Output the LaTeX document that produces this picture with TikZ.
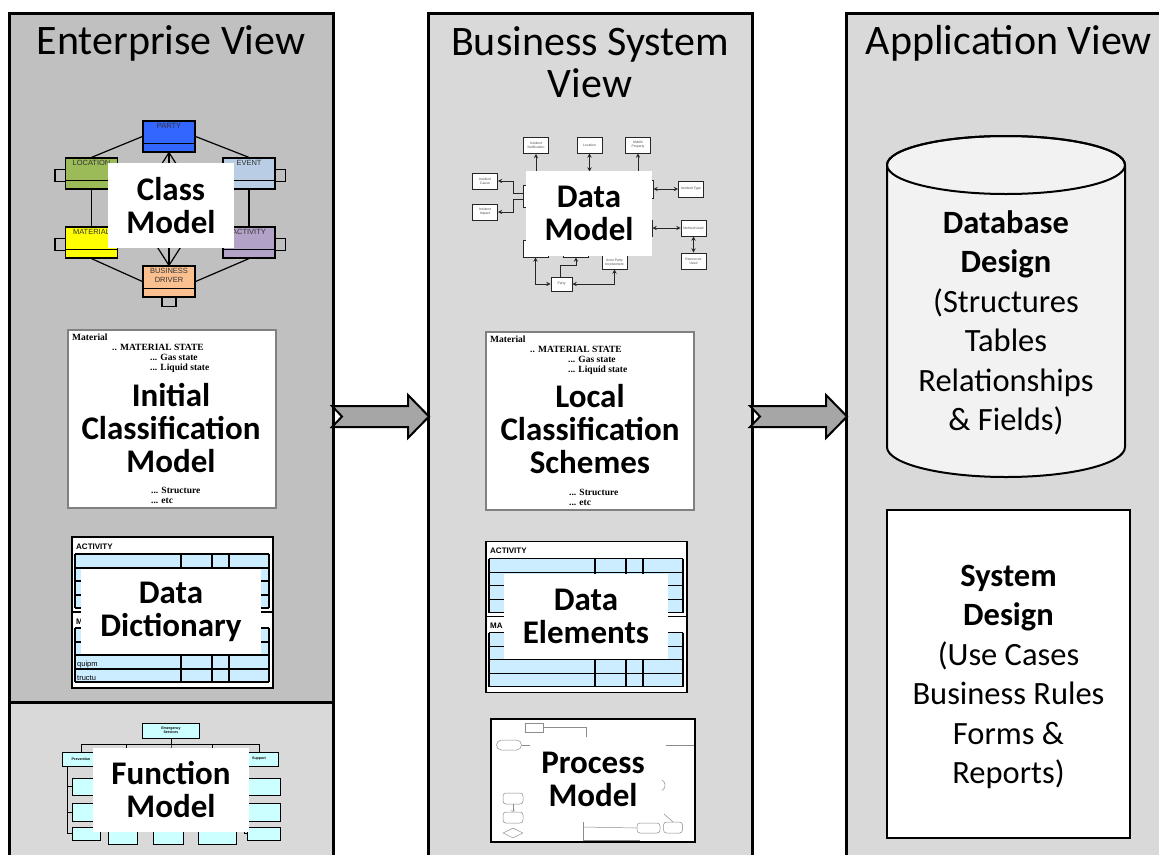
\documentclass[tikz,border=0pt]{standalone}
\usepackage{fontspec}
\setmainfont{Carlito}
\newfontfamily\timesfont{Liberation Serif}
\newfontfamily\arialfont{Liberation Sans}
\usetikzlibrary{positioning,shapes.geometric}

\definecolor{entgray}{HTML}{C0C0C0}
\definecolor{viewgray}{HTML}{D9D9D9}
\definecolor{dbgray}{HTML}{F2F2F2}
\definecolor{arrowgray}{HTML}{A6A6A6}
\definecolor{partyblue}{HTML}{3366FF}
\definecolor{locgreen}{HTML}{9BBB59}
\definecolor{eventblue}{HTML}{B9CDE5}
\definecolor{matyellow}{HTML}{FFFF00}
\definecolor{actpurple}{HTML}{B3A2C7}
\definecolor{bizorange}{HTML}{FAC090}
\definecolor{cellblue}{HTML}{CCECFF}
\definecolor{fncyan}{HTML}{CCFFFF}

\begin{document}
\begin{tikzpicture}[x=1pt, y=-1pt,
    viewframe/.style={draw=black, line width=3pt},
    viewtitle/.style={font=\fontsize{42}{42}\selectfont, inner sep=0pt, anchor=base},
    lbl/.style={fill=white, inner sep=0pt, align=center, font=\fontsize{33}{33}\selectfont\bfseries},
    entity/.style={draw=black, line width=1.2pt, minimum width=52pt, minimum height=31pt, inner sep=0pt},
    entname/.style={font=\arialfont\fontsize{7.5}{9}\selectfont, text=black!80, inner sep=0pt, align=center, anchor=north, yshift=-3pt},
    rel/.style={line width=1.2pt},
    clsframe/.style={draw=black!50, line width=1.2pt, fill=white},
    clstext/.style={font=\timesfont\bfseries\fontsize{9.5}{10}\selectfont, inner sep=0pt, anchor=base west},
    tabframe/.style={draw=black, line width=1.2pt, fill=white},
    tabline/.style={draw=black, line width=1.1pt},
    tabhead/.style={font=\arialfont\bfseries\fontsize{8}{9}\selectfont, inner sep=0pt, anchor=base west},
    tabcell/.style={font=\arialfont\fontsize{7.5}{9}\selectfont, inner sep=0pt, anchor=base west},
    fnbox/.style={draw=black, line width=0.9pt, fill=fncyan, inner sep=0pt, align=center, font=\arialfont\bfseries\fontsize{3.6}{4.2}\selectfont},
    fnline/.style={line width=0.9pt},
    dmbox/.style={draw=black!85, line width=0.9pt, fill=white, inner sep=0pt, minimum width=25pt, minimum height=16pt, align=center, text=black!70, font=\arialfont\fontsize{3.4}{4}\selectfont},
    dmline/.style={line width=0.9pt, black!85, >=stealth},
    pmbox/.style={draw=black!45, line width=0.5pt, rounded corners=3pt, inner sep=0pt},
    pmline/.style={black!45, line width=0.5pt},
    bigarrow/.style={draw=black, line width=2pt, fill=arrowgray, line join=miter},
    appbody/.style={font=\fontsize{32.5}{39.5}\selectfont, align=center, inner sep=0pt},
  ]

  \useasboundingbox (0,0) rectangle (1159,854);
  \clip (0,0) rectangle (1159,854);

  %% the three views
  \fill[viewgray] (9,13) rectangle (333,870);
  \fill[entgray] (9,13) rectangle (333,702);
  \draw[viewframe] (9,13) rectangle (333,870);
  \draw[viewframe] (9,702) -- (333,702);
  \draw[viewframe, fill=viewgray] (428,13) rectangle (752,870);
  \draw[viewframe, fill=viewgray] (846,13) rectangle (1180,870);

  \node[viewtitle] (enttitle) at (171,54) {Enterprise View};
  \node[viewtitle] (bustitle) at (590,55) {Business System};
  \node[viewtitle] (bustitleb) at (590,97) {View};
  \node[viewtitle] (apptitle) at (1009,54) {Application View};

  %% class model
  \node[entity, fill=partyblue, label={[entname]north:PARTY}] (party) at (169,136.5) {};
  \node[entity, fill=locgreen, label={[entname]north:LOCATION}] (location) at (91.5,173.5) {};
  \node[entity, fill=eventblue, label={[entname]north:EVENT}] (event) at (249,173.5) {};
  \node[entity, fill=matyellow, label={[entname]north:MATERIAL}] (material) at (91.5,242.5) {};
  \node[entity, fill=actpurple, label={[entname]north:ACTIVITY}] (activity) at (249,242.5) {};
  \node[entity, fill=bizorange, label={[entname]north:BUSINESS\\DRIVER}] (business) at (169,281.5) {};
  \foreach \ent in {party,location,event,material,activity,business}
    \draw[rel] ([yshift=9pt]\ent.south west) -- ([yshift=9pt]\ent.south east);

  \draw[rel] ([yshift=4pt]location.west) -- ++(-10,0) -- ++(0,12) -- ++(10,0); %% loops
  \draw[rel] ([yshift=4pt]material.west) -- ++(-10,0) -- ++(0,12) -- ++(10,0);
  \draw[rel] ([yshift=4pt]event.east) -- ++(10,0) -- ++(0,12) -- ++(-10,0);
  \draw[rel] ([yshift=4pt]activity.east) -- ++(10,0) -- ++(0,12) -- ++(-10,0);
  \draw[rel] ([xshift=-7pt]business.south) -- ++(0,9) -- ++(14,0) -- ++(0,-9);

  \draw[rel] (party.west) -- (location.north);
  \draw[rel] (party.east) -- (event.north);
  \draw[rel] (location.south) -- (material.north);
  \draw[rel] (event.south) -- (activity.north);
  \draw[rel] (material.south) -- (business.west);
  \draw[rel] (activity.south) -- (business.east);
  \draw[rel] (party.south) -- (business.north);
  \draw[rel] (party.south) -- (133,209) -- (business.north);
  \draw[rel] (party.south) -- (205,209) -- (business.north);

  \node[lbl, minimum width=126pt, minimum height=85pt] (classlbl) at (171,205.5) {Class\\Model};

  %% classification schemes
  \newcommand\ClassScheme[3]{%% #1,#2 = top left corner, #3 = prefix
    \draw[clsframe] (#1,#2) rectangle ++(208,178);
    \node[clstext] (#3mat) at (#1+4,#2+10.5) {Material};
    \node[clstext] (#3state) at (#1+44,#2+20.5) {.. MATERIAL STATE};
    \node[clstext] (#3gas) at (#1+82,#2+30.5) {... Gas state};
    \node[clstext] (#3liquid) at (#1+82,#2+40.5) {... Liquid state};
    \node[clstext] (#3struct) at (#1+83,#2+163.5) {... Structure};
    \node[clstext] (#3etc) at (#1+83,#2+173.5) {... etc};
  }
  \ClassScheme{68}{330}{init}
  \node[lbl, fill=none] (initlbl) at (171,428) {Initial\\Classification\\Model};

  %% data tables
  \newcommand\DataTable[4]{%% #1,#2 = top left corner, #3 = prefix, #4 = second heading
    \draw[tabframe] (#1,#2) rectangle ++(201,151);
    \node[tabhead] (#3heada) at (#1+4,#2+12) {ACTIVITY};
    \node[tabhead] (#3headb) at (#1+4,#2+87) {#4};
    \draw[tabline] (#1,#2+75) -- ++(201,0);
    \foreach \rowtop in {17,91} {
      \fill[cellblue] (#1+3,#2+\rowtop) rectangle ++(194,54);
      \foreach \rw in {0,14,27,41,54}
        \draw[tabline] (#1+3,#2+\rowtop+\rw) -- ++(194,0);
      \foreach \cl in {0,106,137,154,194}
        \draw[tabline] (#1+3+\cl,#2+\rowtop) -- ++(0,54);
    }
  }
  \DataTable{72}{537}{dd}{M}
  \node[tabcell] (ddequip) at (77,666) {quipm};
  \node[tabcell] (ddstruct) at (77,680) {tructu};
  \node[lbl, minimum width=180pt, minimum height=85pt] (ddlbl) at (171,611.5) {Data\\Dictionary};

  %% function model
  \node[fnbox, minimum width=57pt, minimum height=15pt] (fntop) at (171,730.5) {Emergency\\Services};
  \node[fnbox, minimum width=38pt, minimum height=14pt] (fnprev) at (81,759) {Prevention};
  \node[fnbox, minimum width=37pt, minimum height=14pt] (fnb) at (126,759) {};
  \node[fnbox, minimum width=37pt, minimum height=14pt] (fnc) at (171,759) {};
  \node[fnbox, minimum width=37pt, minimum height=14pt] (fnd) at (212,759) {};
  \node[fnbox, minimum width=38pt, minimum height=14pt] (fnsupp) at (259,759) {Support};
  \foreach \fn in {fnprev,fnb,fnc,fnd,fnsupp}
    \draw[fnline] (fntop.south) -- ++(0,6) -| (\fn.north);

  \node[fnbox, minimum width=28pt, minimum height=17pt] (fnpa) at (86,786.5) {};
  \node[fnbox, minimum width=28pt, minimum height=18pt] (fnpb) at (86,812) {};
  \node[fnbox, minimum width=28pt, minimum height=13pt] (fnpc) at (86,833.5) {};
  \node[fnbox, minimum width=33pt, minimum height=17pt] (fnsa) at (263.5,786.5) {};
  \node[fnbox, minimum width=33pt, minimum height=18pt] (fnsb) at (263.5,812) {};
  \node[fnbox, minimum width=33pt, minimum height=13pt] (fnsc) at (263.5,833.5) {};
  \node[fnbox, minimum width=29pt, minimum height=13pt] (fnba) at (122.5,838) {};
  \node[fnbox, minimum width=30pt, minimum height=13pt] (fnca) at (168,838) {};
  \node[fnbox, minimum width=38pt, minimum height=13pt] (fnda) at (217,838) {};
  \coordinate (fnpspine) at (67,766);
  \coordinate (fnsspine) at (244,766);
  \foreach \fn in {fnpa,fnpb,fnpc} \draw[fnline] (fnpspine) |- (\fn.west);
  \foreach \fn in {fnsa,fnsb,fnsc} \draw[fnline] (fnsspine) |- (\fn.west);

  \node[lbl, minimum width=156pt, minimum height=84pt] (fnlbl) at (171,790) {Function\\Model};

  %% data model
  \node[dmbox] (dmnotif) at (536,145.5) {Incident\\Notification};
  \node[dmbox] (dmloc) at (589.5,145) {Location};
  \node[dmbox] (dmmobile) at (638,145) {Mobile\\Property};
  \node[dmbox] (dmcause) at (485,181) {Incident\\Cause};
  \node[dmbox] (dmimpact) at (485,212) {Incident\\Impact};
  \node[dmbox] (dmtype) at (691,189) {Incident Type};
  \node[dmbox] (dmmethod) at (693.5,228) {Method Used};
  \node[dmbox] (dmres) at (693.5,261) {Resources\\Used};
  \node[dmbox, minimum width=21pt, minimum height=14pt] (dmparty) at (561.5,284) {Party};
  \node[dmbox, minimum height=14pt] (dmactor) at (614.5,262) {Actor Party\\Involvement};
  \node[dmbox, minimum width=26pt, minimum height=22pt] (dmincident) at (536,196) {};
  \node[dmbox] (dmloctype) at (589.5,180) {};
  \node[dmbox, minimum width=30pt, minimum height=18pt] (dmright) at (638,189) {};
  \node[dmbox, minimum width=28pt] (dmalloc) at (638,228) {};
  \node[dmbox, minimum height=17pt] (dmbl) at (535.5,248.5) {};
  \node[dmbox, minimum height=17pt] (dmbm) at (576,248.5) {};

  \draw[dmline, ->] (dmincident) -- (dmnotif);
  \draw[dmline, <->] (dmloctype) -- (dmloc);
  \draw[dmline, ->] (dmright) -- (dmmobile);
  \draw[dmline, ->] ([yshift=3pt]dmincident.west) -- ++(-9,0) |- (dmcause.east);
  \draw[dmline, ->] ([yshift=-3pt]dmincident.west) -- ++(-9,0) |- (dmimpact.east);
  \draw[dmline, <->] (dmright) -- (dmtype);
  \draw[dmline, <->] (dmalloc) -- (dmmethod);
  \draw[dmline, <->] (dmmethod) -- (dmres);
  \draw[dmline, <->] (dmparty.west) -| (dmbl.south);
  \draw[dmline, ->] ([xshift=-1.5pt]dmparty.north) -- ++(0,-11) -| (dmbm.south);
  \draw[dmline, <->] (dmparty.east) -| (dmactor.south);

  \node[lbl, minimum width=126pt, minimum height=85pt] (dmlbl) at (589,213.5) {Data\\Model};

  \ClassScheme{486}{332}{local}
  \node[lbl, fill=none] (locallbl) at (590,429) {Local\\Classification\\Schemes};

  \DataTable{486}{541.5}{de}{MA}
  \node[lbl, minimum width=164pt, minimum height=85pt] (delbl) at (586,616.5) {Data\\Elements};

  %% process model
  \draw[black, line width=2.2pt, fill=white] (491,719) rectangle (695,842);
  \node[pmbox, rounded corners=0pt, minimum width=18pt, minimum height=9pt] (pmevent) at (534,727.5) {};
  \node[pmbox, rounded corners=5pt, minimum width=25pt, minimum height=10pt] (pmstart) at (509,745) {};
  \node[pmbox, minimum width=20pt, minimum height=11pt] (pmstepa) at (513,798.5) {};
  \node[pmbox, minimum width=20pt, minimum height=11pt] (pmstepb) at (513,817.5) {};
  \node[pmbox, rounded corners=0pt, diamond, aspect=2, minimum width=20pt, minimum height=10pt] (pmask) at (513,833) {};
  \node[pmbox, minimum width=23pt, minimum height=10pt] (pmcheck) at (648.5,828) {};
  \node[pmbox, minimum width=19pt, minimum height=11pt] (pmnotify) at (673,827.5) {};
  \coordinate (pmjoin) at (586,737);
  \coordinate (pmout) at (530,745);
  \coordinate (pmbus) at (583,827);
  \draw[pmline] (pmevent.east) -| (pmjoin);
  \draw[pmline] (pmstart.east) -- (pmout);
  \draw[pmline, ->] (pmstepa) -- (pmstepb);
  \draw[pmline] (pmbus) -- (pmcheck.west);
  \draw[pmline] (583,822) -- (583,840) -- (640,840);
  \draw[pmline] (664,814) -- (pmnotify.north);
  \draw[pmline] (662,780) arc[start angle=60, end angle=-60, radius=6pt];
  \draw[pmline] (666,745) -- (694,745);
  \node[lbl, fill=none] (pmlbl) at (593,779) {Process\\Model};

  %% arrows between the views
  \coordinate (entout) at (332,416.5);
  \coordinate (busin) at (429,416.5);
  \coordinate (busout) at (750,416.5);
  \coordinate (appin) at (847,416.5);
  \draw[bigarrow] (entout) ++(0,-10.5) -- ++(76,0) -- ++(0,-11) -- (busin) -- ++(-21,21.5) -- ++(0,-11) -- ++(-76,0) -- ++(10,-10.5) -- cycle;
  \draw[bigarrow] (busout) ++(0,-10.5) -- ++(76,0) -- ++(0,-11) -- (appin) -- ++(-21,21.5) -- ++(0,-11) -- ++(-76,0) -- ++(10,-10.5) -- cycle;

  %% database design
  \draw[line width=2pt, fill=dbgray] (887,165) -- (887,447)
      arc[start angle=180, end angle=360, x radius=119pt, y radius=30pt]
      -- (1125,165)
      arc[start angle=0, end angle=180, x radius=119pt, y radius=29pt] -- cycle;
  \draw[line width=2pt] (1006,165) ellipse [x radius=119pt, y radius=29pt];
  \node[appbody] (dbtext) at (1006,323) {\textbf{Database}\\\textbf{Design}\\(Structures\\Tables\\Relationships\\\& Fields)};

  %% system design
  \node[appbody, draw=black, line width=1.8pt, fill=white, minimum width=243pt, minimum height=328pt] (sysdesign) at (1008.5,674) {};
  \node[appbody] (systext) at (1008.5,677)
    {\textbf{System}\\\textbf{Design}\\(Use Cases\\Business Rules\\Forms \&\\Reports)};
\end{tikzpicture}
\end{document}
